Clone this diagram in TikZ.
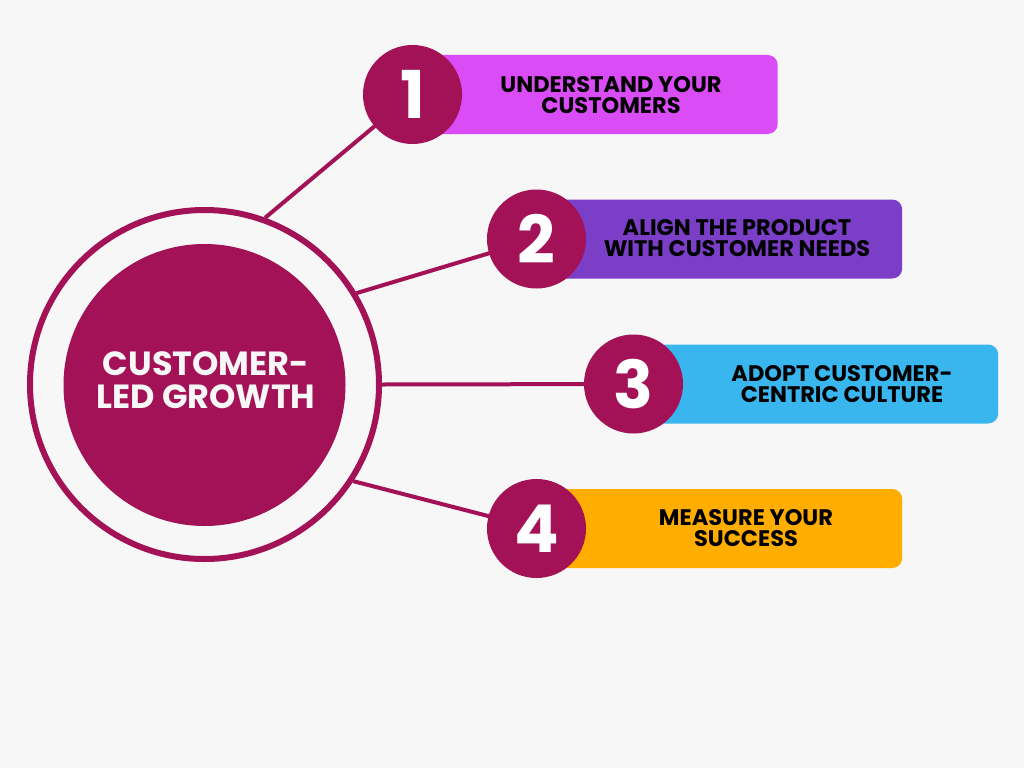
\documentclass[tikz,border=0pt]{standalone}
\usepackage{fontspec}
\setmainfont{Poppins}
\definecolor{bg}{HTML}{F7F7F7}
\definecolor{crim}{HTML}{A31156}
\definecolor{cpink}{HTML}{DA4CF6}
\definecolor{cpurple}{HTML}{7B3EC7}
\definecolor{cblue}{HTML}{3AB6EF}
\definecolor{corange}{HTML}{FFAE00}
\pgfdeclarelayer{bgl}
\pgfdeclarelayer{back}
\pgfsetlayers{bgl,back,main}
\tikzset{
  numc/.style={circle, fill=crim, minimum size=99pt, inner sep=0pt, text=white,
    font=\bfseries\fontsize{66}{66}\selectfont},
  stepbox/.style={rectangle, rounded corners=10pt, minimum height=79pt, inner sep=0pt, anchor=west},
  steptxt/.style={align=center, text=black, inner sep=0pt,
    font=\bfseries\fontsize{22.5}{20.5}\selectfont},
  conn/.style={draw=crim, line width=4pt},
}
\begin{document}
\begin{tikzpicture}[x=1pt,y=-1pt]
\begin{pgfonlayer}{bgl}
\useasboundingbox[fill=bg] (0,0) rectangle (1024,768);
\end{pgfonlayer}
% central hub
\node[circle, draw=crim, line width=6pt, minimum size=349pt, inner sep=0pt] (ring) at (204.5,384.5) {};
\node[circle, fill=crim, minimum size=282pt, inner sep=0pt] (core) at (204.5,385) {};
\node[align=center, text=bg, inner sep=0pt, font=\bfseries\fontsize{33.5}{33}\selectfont] (ctext) at (206,380) {CUSTOMER-\\LED GROWTH};
% boxes
\node[stepbox, fill=cpink, minimum width=365pt] (b1) at (412.5,94.5) {};
\node[stepbox, fill=cpurple, minimum width=365.5pt] (b2) at (536.5,239) {};
\node[stepbox, fill=cblue, minimum width=364.5pt] (b3) at (633.5,384) {};
\node[stepbox, fill=corange, minimum width=365.5pt] (b4) at (536.5,528.5) {};
% texts
\node[steptxt] (t1) at (611,95) {UNDERSTAND YOUR\\CUSTOMERS};
\node[steptxt] (t2) at (737,238) {ALIGN THE PRODUCT\\WITH CUSTOMER NEEDS};
\node[steptxt] (t3) at (842,384) {ADOPT CUSTOMER-\\CENTRIC CULTURE};
\node[steptxt] (t4) at (746,528) {MEASURE YOUR\\SUCCESS};
% number circles
\node[numc] (n1) at (412.5,94.5) {1};
\node[numc] (n2) at (536.5,239) {2};
\node[numc] (n3) at (633.5,384) {3};
\node[numc] (n4) at (536.5,528.5) {4};
% connectors
\begin{pgfonlayer}{back}
\draw[conn] (ring.70) -- (n1.center);
\draw[conn] (ring.31.5) -- (n2.center);
\draw[conn] (ring.0) -- (n3.center);
\draw[conn] (ring.-33) -- (n4.center);
\end{pgfonlayer}
\end{tikzpicture}
\end{document}
